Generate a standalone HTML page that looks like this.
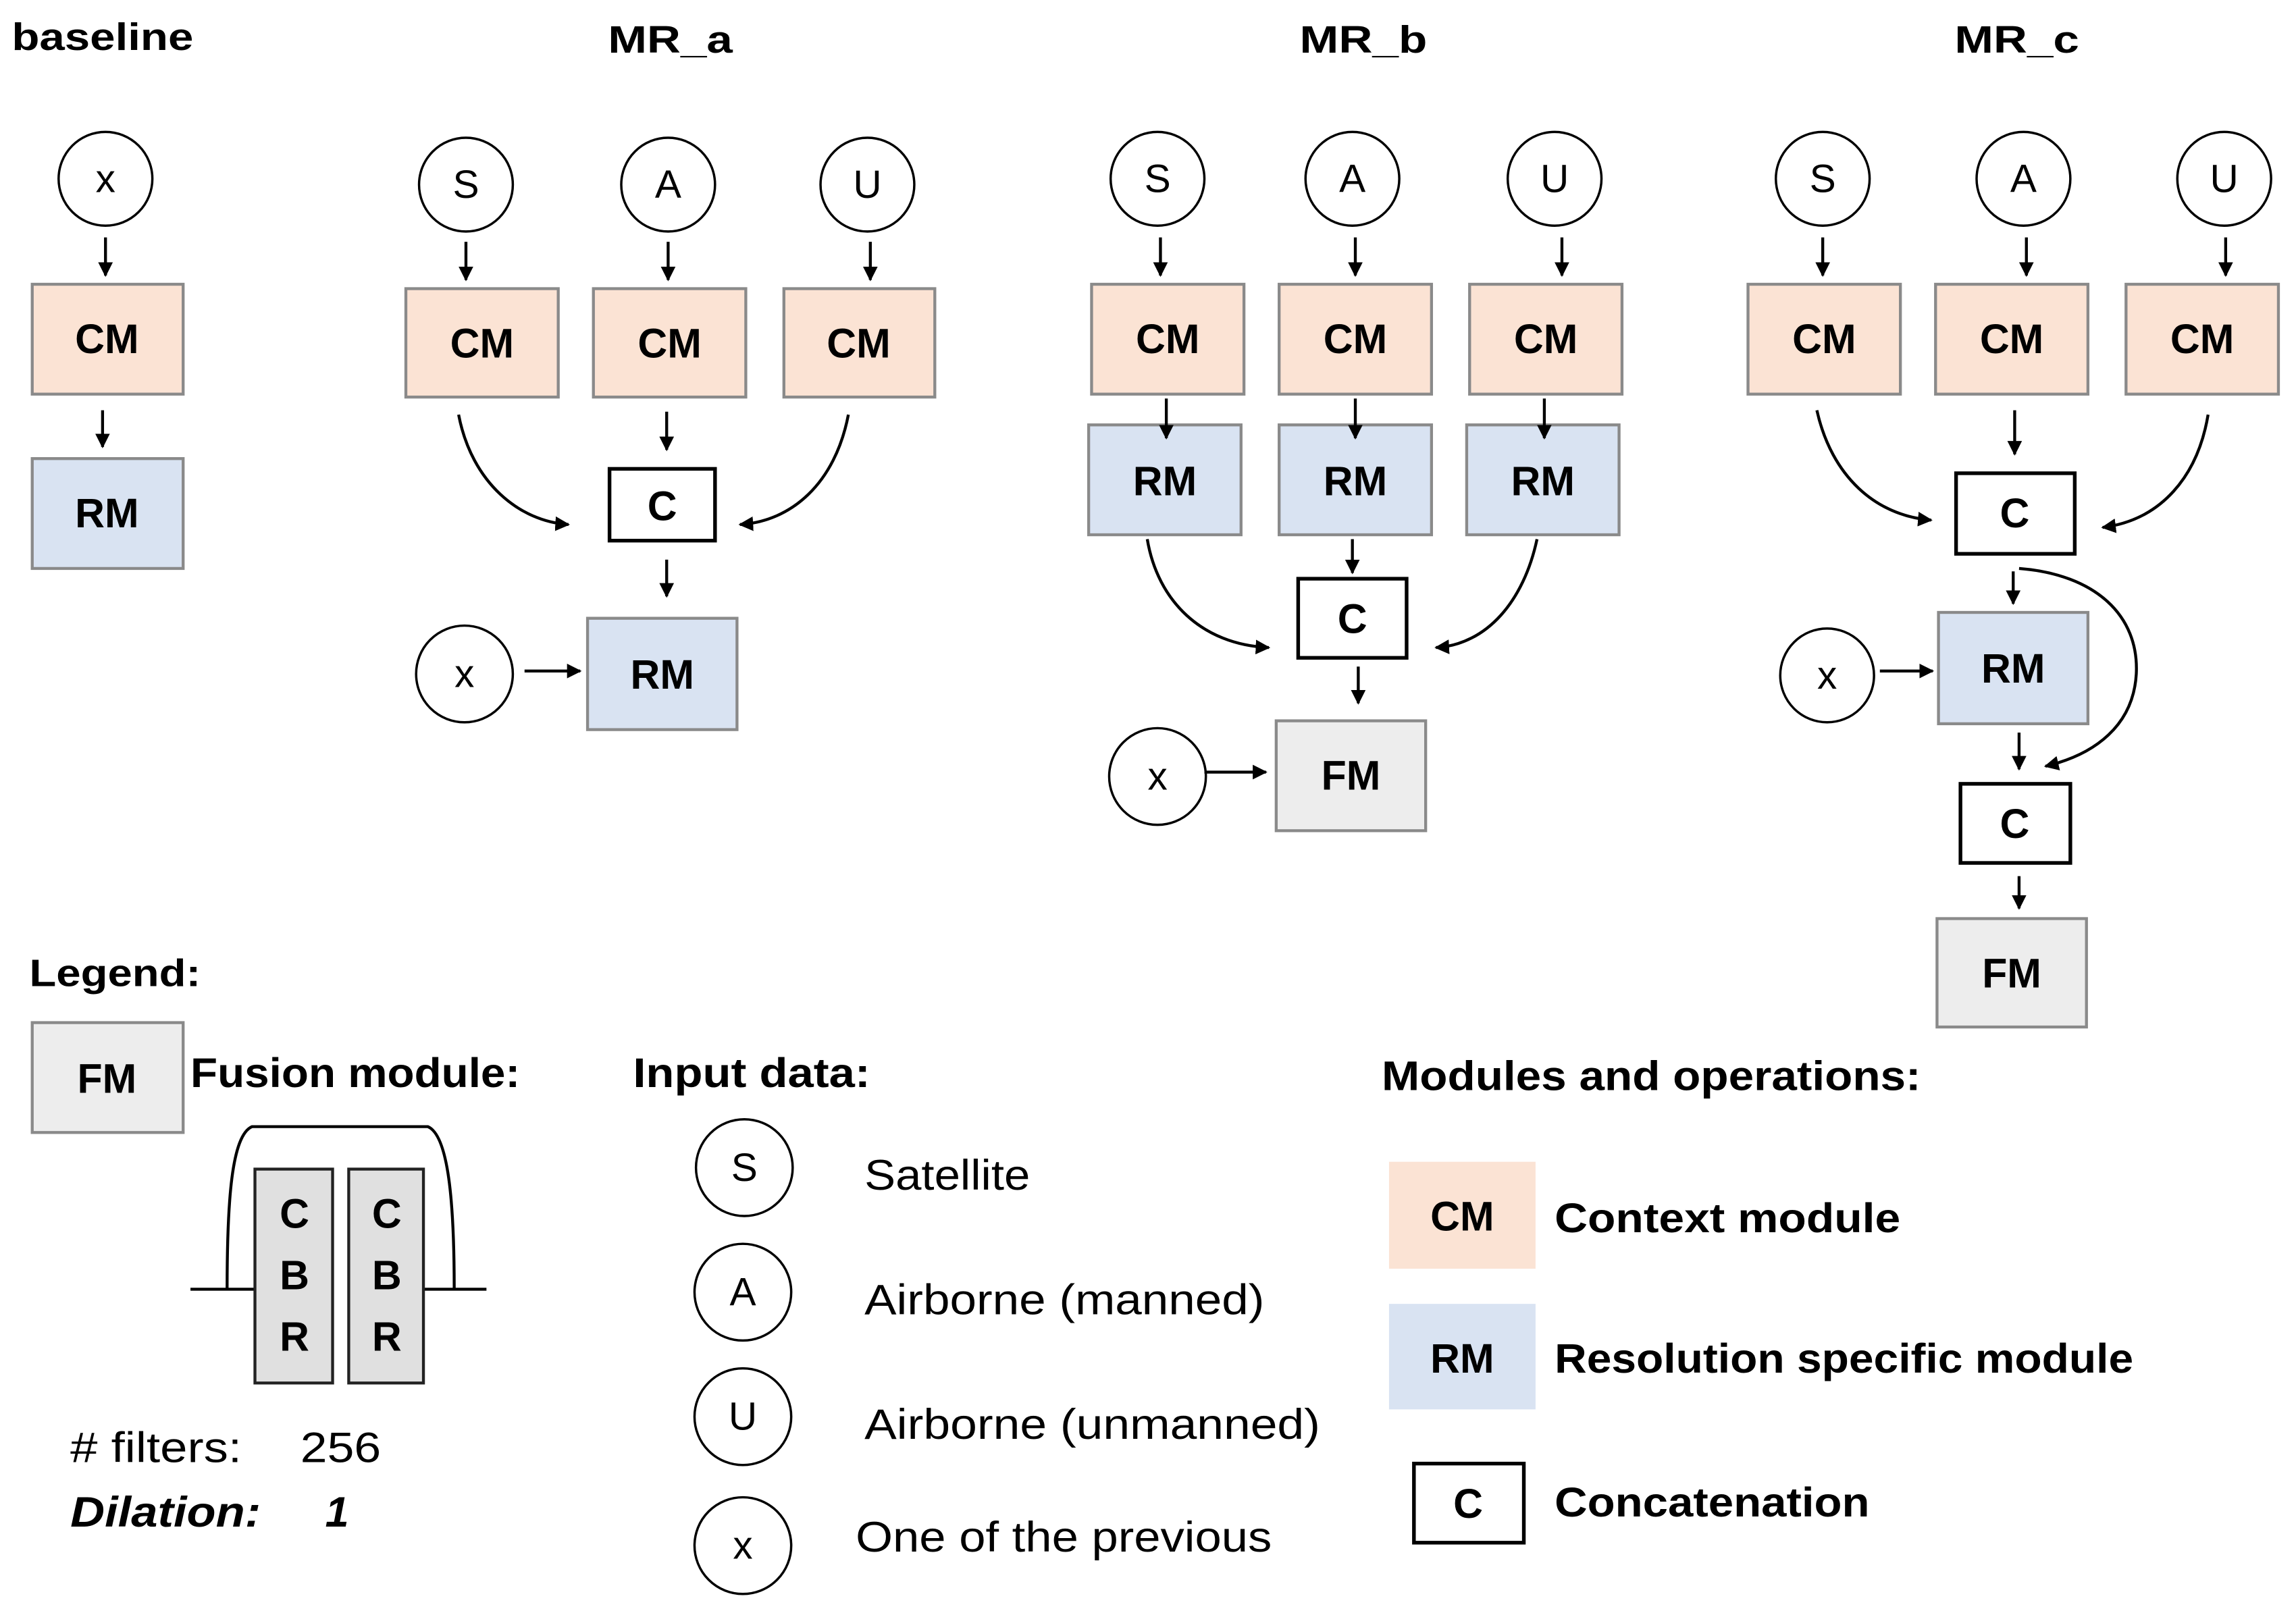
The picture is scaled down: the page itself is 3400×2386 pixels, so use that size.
<!DOCTYPE html>
<html><head><meta charset="utf-8"><style>
html,body{margin:0;padding:0;background:#fff;}
svg{display:block;}
text{font-family:"Liberation Sans",sans-serif;}
.b{font-weight:bold;font-size:28px;text-anchor:middle;}
.t{font-weight:bold;font-size:26px;}
.c{font-size:27px;text-anchor:middle;}
.cm{fill:#FBE3D4;stroke:#8a8a8a;stroke-width:2;}
.rm{fill:#D9E3F2;stroke:#8a8a8a;stroke-width:2;}
.fm{fill:#EDEDED;stroke:#8a8a8a;stroke-width:2;}
.cc{fill:#fff;stroke:#000;stroke-width:2.5;}
.ci{fill:#fff;stroke:#000;stroke-width:1.6;}
.ln{fill:none;stroke:#000;stroke-width:2;}
.lg{font-size:29px;}
</style></head><body>
<svg width="3400" height="2386" viewBox="0 0 1567 1099.6" xmlns="http://www.w3.org/2000/svg">
<defs><marker id="a" viewBox="0 0 10 10" refX="9" refY="5" markerWidth="5" markerHeight="5" orient="auto"><path d="M0,0L10,5L0,10z" fill="#000"/></marker></defs>

<!-- baseline -->
<text class="t" x="8" y="34" textLength="124" lengthAdjust="spacingAndGlyphs">baseline</text>
<circle class="ci" cx="72" cy="122" r="32"/><text class="c" x="72" y="131">x</text>
<line class="ln" x1="72" y1="162" x2="72" y2="188" marker-end="url(#a)"/>
<rect class="cm" x="22" y="194" width="103" height="75"/><text class="b" x="73" y="241">CM</text>
<line class="ln" x1="70" y1="280" x2="70" y2="305" marker-end="url(#a)"/>
<rect class="rm" x="22" y="313" width="103" height="75"/><text class="b" x="73" y="360">RM</text>

<!-- MR_a -->
<text class="t" x="415" y="36" textLength="85" lengthAdjust="spacingAndGlyphs">MR_a</text>
<circle class="ci" cx="318" cy="126" r="32"/><text class="c" x="318" y="135">S</text>
<circle class="ci" cx="456" cy="126" r="32"/><text class="c" x="456" y="135">A</text>
<circle class="ci" cx="592" cy="126" r="32"/><text class="c" x="592" y="135">U</text>
<line class="ln" x1="318" y1="165" x2="318" y2="191" marker-end="url(#a)"/>
<line class="ln" x1="456" y1="165" x2="456" y2="191" marker-end="url(#a)"/>
<line class="ln" x1="594" y1="165" x2="594" y2="191" marker-end="url(#a)"/>
<rect class="cm" x="277" y="197" width="104" height="74"/><text class="b" x="329" y="244">CM</text>
<rect class="cm" x="405" y="197" width="104" height="74"/><text class="b" x="457" y="244">CM</text>
<rect class="cm" x="535" y="197" width="103" height="74"/><text class="b" x="586" y="244">CM</text>
<line class="ln" x1="455" y1="281" x2="455" y2="307" marker-end="url(#a)"/>
<rect class="cc" x="416" y="320" width="72" height="49"/><text class="b" x="452" y="355">C</text>
<path class="ln" d="M313,283 C322,330 355,356 388,358" marker-end="url(#a)"/>
<path class="ln" d="M579,283 C570,330 540,356 505,358" marker-end="url(#a)"/>
<line class="ln" x1="455" y1="382" x2="455" y2="407" marker-end="url(#a)"/>
<rect class="rm" x="401" y="422" width="102" height="76"/><text class="b" x="452" y="470">RM</text>
<circle class="ci" cx="317" cy="460" r="33"/><text class="c" x="317" y="469">x</text>
<line class="ln" x1="358" y1="458" x2="396" y2="458" marker-end="url(#a)"/>

<!-- MR_b -->
<text class="t" x="887" y="36" textLength="87" lengthAdjust="spacingAndGlyphs">MR_b</text>
<circle class="ci" cx="790" cy="122" r="32"/><text class="c" x="790" y="131">S</text>
<circle class="ci" cx="923" cy="122" r="32"/><text class="c" x="923" y="131">A</text>
<circle class="ci" cx="1061" cy="122" r="32"/><text class="c" x="1061" y="131">U</text>
<line class="ln" x1="792" y1="162" x2="792" y2="188" marker-end="url(#a)"/>
<line class="ln" x1="925" y1="162" x2="925" y2="188" marker-end="url(#a)"/>
<line class="ln" x1="1066" y1="162" x2="1066" y2="188" marker-end="url(#a)"/>
<rect class="cm" x="745" y="194" width="104" height="75"/><text class="b" x="797" y="241">CM</text>
<rect class="cm" x="873" y="194" width="104" height="75"/><text class="b" x="925" y="241">CM</text>
<rect class="cm" x="1003" y="194" width="104" height="75"/><text class="b" x="1055" y="241">CM</text>
<rect class="rm" x="743" y="290" width="104" height="75"/><text class="b" x="795" y="338">RM</text>
<rect class="rm" x="873" y="290" width="104" height="75"/><text class="b" x="925" y="338">RM</text>
<rect class="rm" x="1001" y="290" width="104" height="75"/><text class="b" x="1053" y="338">RM</text>
<line class="ln" x1="796" y1="272" x2="796" y2="299" marker-end="url(#a)"/>
<line class="ln" x1="925" y1="272" x2="925" y2="299" marker-end="url(#a)"/>
<line class="ln" x1="1054" y1="272" x2="1054" y2="299" marker-end="url(#a)"/>
<line class="ln" x1="923" y1="368" x2="923" y2="391" marker-end="url(#a)"/>
<rect class="cc" x="886" y="395" width="74" height="54"/><text class="b" x="923" y="432">C</text>
<path class="ln" d="M783,368 C790,410 820,440 866,442" marker-end="url(#a)"/>
<path class="ln" d="M1049,368 C1040,410 1015,440 980,442" marker-end="url(#a)"/>
<line class="ln" x1="927" y1="455" x2="927" y2="480" marker-end="url(#a)"/>
<rect class="fm" x="871" y="492" width="102" height="75"/><text class="b" x="922" y="539">FM</text>
<circle class="ci" cx="790" cy="530" r="33"/><text class="c" x="790" y="539">x</text>
<line class="ln" x1="822" y1="527" x2="864" y2="527" marker-end="url(#a)"/>

<!-- MR_c -->
<text class="t" x="1334" y="36" textLength="85" lengthAdjust="spacingAndGlyphs">MR_c</text>
<circle class="ci" cx="1244" cy="122" r="32"/><text class="c" x="1244" y="131">S</text>
<circle class="ci" cx="1381" cy="122" r="32"/><text class="c" x="1381" y="131">A</text>
<circle class="ci" cx="1518" cy="122" r="32"/><text class="c" x="1518" y="131">U</text>
<line class="ln" x1="1244" y1="162" x2="1244" y2="188" marker-end="url(#a)"/>
<line class="ln" x1="1383" y1="162" x2="1383" y2="188" marker-end="url(#a)"/>
<line class="ln" x1="1519" y1="162" x2="1519" y2="188" marker-end="url(#a)"/>
<rect class="cm" x="1193" y="194" width="104" height="75"/><text class="b" x="1245" y="241">CM</text>
<rect class="cm" x="1321" y="194" width="104" height="75"/><text class="b" x="1373" y="241">CM</text>
<rect class="cm" x="1451" y="194" width="104" height="75"/><text class="b" x="1503" y="241">CM</text>
<line class="ln" x1="1375" y1="280" x2="1375" y2="310" marker-end="url(#a)"/>
<rect class="cc" x="1335" y="323" width="81" height="55"/><text class="b" x="1375" y="360">C</text>
<path class="ln" d="M1240,280 C1250,325 1280,352 1318,355" marker-end="url(#a)"/>
<path class="ln" d="M1507,283 C1500,325 1475,355 1435,360" marker-end="url(#a)"/>
<line class="ln" x1="1374" y1="390" x2="1374" y2="412" marker-end="url(#a)"/>
<rect class="rm" x="1323" y="418" width="102" height="76"/><text class="b" x="1374" y="466">RM</text>
<circle class="ci" cx="1247" cy="461" r="32"/><text class="c" x="1247" y="470">x</text>
<line class="ln" x1="1283" y1="458" x2="1319" y2="458" marker-end="url(#a)"/>
<path class="ln" d="M1378,388 C1430,392 1460,420 1458,460 C1456,495 1430,515 1396,523" marker-end="url(#a)"/>
<line class="ln" x1="1378" y1="500" x2="1378" y2="525" marker-end="url(#a)"/>
<rect class="cc" x="1338" y="535" width="75" height="54"/><text class="b" x="1375" y="572">C</text>
<line class="ln" x1="1378" y1="598" x2="1378" y2="620" marker-end="url(#a)"/>
<rect class="fm" x="1322" y="627" width="102" height="74"/><text class="b" x="1373" y="674">FM</text>

<!-- Legend -->
<text class="t" x="20" y="673" textLength="117" lengthAdjust="spacingAndGlyphs">Legend:</text>
<rect class="fm" x="22" y="698" width="103" height="75"/><text class="b" x="73" y="746">FM</text>
<text class="t" x="130" y="742" style="font-size:28px" textLength="225" lengthAdjust="spacingAndGlyphs">Fusion module:</text>
<line class="ln" x1="130" y1="880" x2="174" y2="880"/>
<line class="ln" x1="289" y1="880" x2="332" y2="880"/>
<path class="ln" d="M155,880 C155,820 158,775 172,769 L292,769 C306,775 310,820 310,880"/>
<rect x="174" y="798" width="53" height="146" fill="#E0E0E0" stroke="#222" stroke-width="2"/>
<rect x="238" y="798" width="51" height="146" fill="#E0E0E0" stroke="#222" stroke-width="2"/>
<text class="b" x="201" y="838">C</text><text class="b" x="201" y="880">B</text><text class="b" x="201" y="922">R</text>
<text class="b" x="264" y="838">C</text><text class="b" x="264" y="880">B</text><text class="b" x="264" y="922">R</text>
<text class="lg" x="48" y="998" textLength="117" lengthAdjust="spacingAndGlyphs"># filters:</text><text class="lg" x="205" y="998" textLength="55" lengthAdjust="spacingAndGlyphs">256</text>
<text class="lg" x="48" y="1042" style="font-weight:bold;font-style:italic" textLength="130" lengthAdjust="spacingAndGlyphs">Dilation:</text>
<text class="lg" x="222" y="1042" style="font-weight:bold;font-style:italic">1</text>

<text class="t" x="432" y="742" style="font-size:28px" textLength="162" lengthAdjust="spacingAndGlyphs">Input data:</text>
<circle class="ci" cx="508" cy="797" r="33"/><text class="c" x="508" y="806">S</text>
<circle class="ci" cx="507" cy="882" r="33"/><text class="c" x="507" y="891">A</text>
<circle class="ci" cx="507" cy="967" r="33"/><text class="c" x="507" y="976">U</text>
<circle class="ci" cx="507" cy="1055" r="33"/><text class="c" x="507" y="1064">x</text>
<text class="lg" x="590" y="812" textLength="113" lengthAdjust="spacingAndGlyphs">Satellite</text>
<text class="lg" x="590" y="897" textLength="273" lengthAdjust="spacingAndGlyphs">Airborne (manned)</text>
<text class="lg" x="590" y="982" textLength="311" lengthAdjust="spacingAndGlyphs">Airborne (unmanned)</text>
<text class="lg" x="584" y="1059" textLength="284" lengthAdjust="spacingAndGlyphs">One of the previous</text>

<text class="t" x="943" y="744" style="font-size:28px" textLength="368" lengthAdjust="spacingAndGlyphs">Modules and operations:</text>
<rect x="948" y="793" width="100" height="73" fill="#FBE3D4"/><text class="b" x="998" y="840">CM</text>
<text class="t" x="1061" y="841" style="font-size:28px" textLength="236" lengthAdjust="spacingAndGlyphs">Context module</text>
<rect x="948" y="890" width="100" height="72" fill="#D9E3F2"/><text class="b" x="998" y="937">RM</text>
<text class="t" x="1061" y="937" style="font-size:28px" textLength="395" lengthAdjust="spacingAndGlyphs">Resolution specific module</text>
<rect class="cc" x="965" y="999" width="75" height="54"/><text class="b" x="1002" y="1036">C</text>
<text class="t" x="1061" y="1035" style="font-size:28px" textLength="215" lengthAdjust="spacingAndGlyphs">Concatenation</text>
</svg>
</body></html>
